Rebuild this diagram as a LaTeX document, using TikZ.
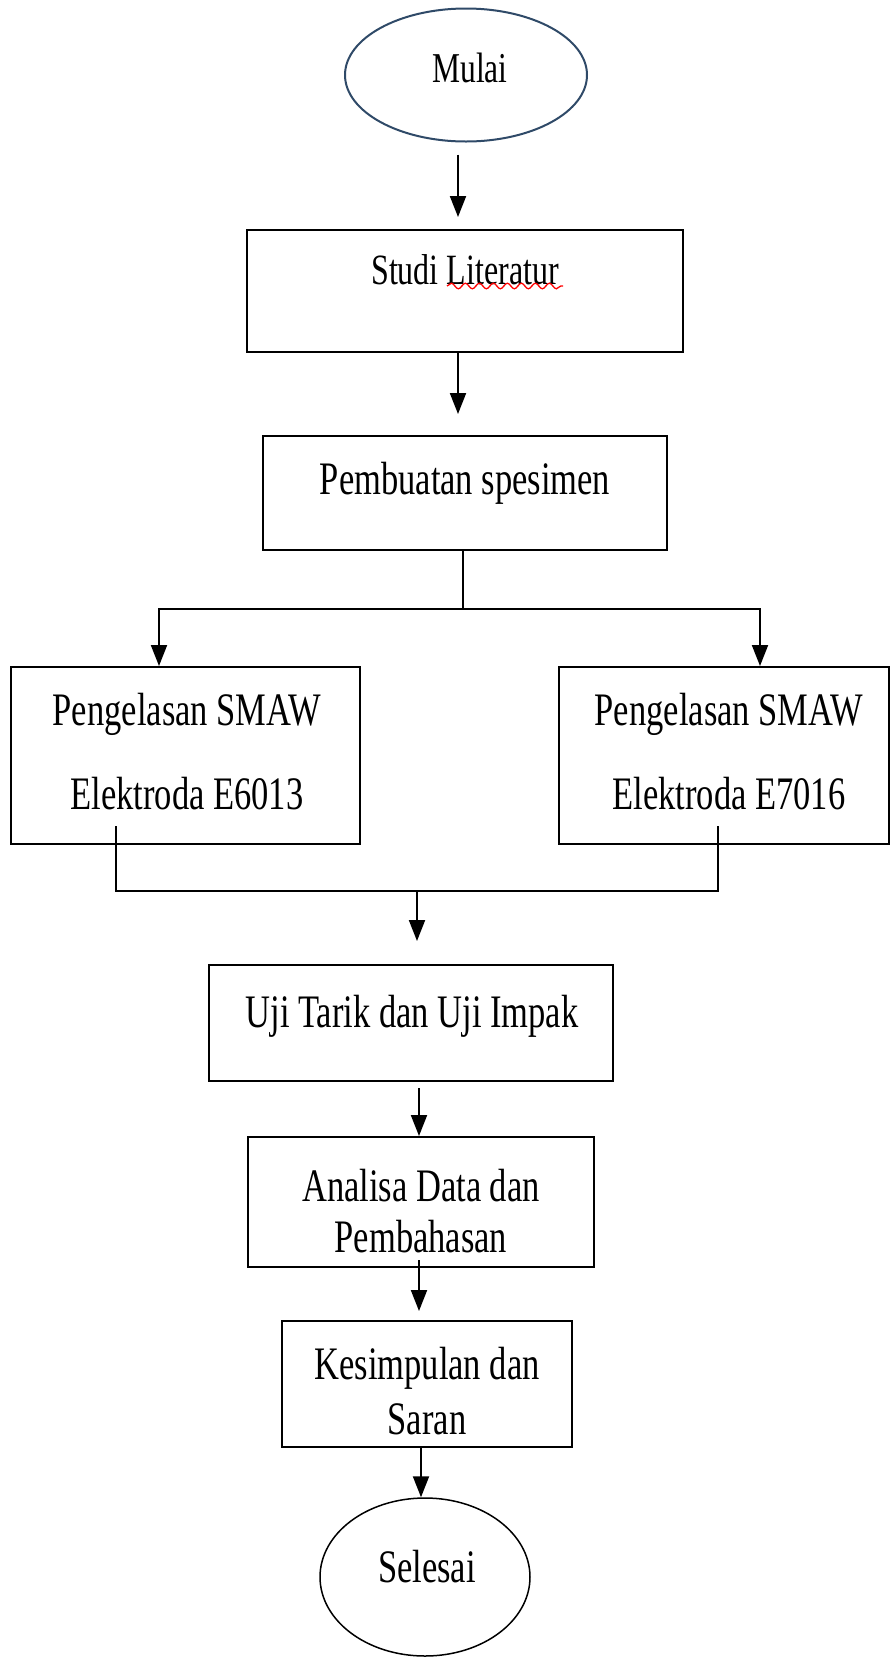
\documentclass[tikz,border=0pt]{standalone}
\usepackage{fontspec}
\setmainfont{Liberation Serif}
\usepackage{graphicx}
\usetikzlibrary{arrows.meta, shapes.geometric, decorations.pathmorphing}
\definecolor{biru}{HTML}{2F4A68}
\newcommand{\tinggi}[1]{\scalebox{1}[1.35]{#1}}

\begin{document}
\begin{tikzpicture}[x=1pt, y=-1pt,
	kotak/.style={draw, line width=2pt, inner sep=0pt},
	teks/.style={font=\fontsize{34.5}{51}\selectfont, align=center, inner sep=0pt},
	panah/.style={line width=2pt, -{Triangle[length=21pt, width=16pt]}},
	garis/.style={line width=2pt}]
	\useasboundingbox (0,0) rectangle (890,1660);

	% elips Mulai
	\node[kotak, ellipse, draw=biru, minimum width=242pt, minimum height=133pt] (mulai) at (466,75) {};
	\node[teks, font=\fontsize{31.5}{40}\selectfont] (mulaiT) at (470,68) {\tinggi{Mulai}};

	% kotak Studi Literatur
	\node[kotak, minimum width=436pt, minimum height=122pt] (studi) at (465,291) {};
	\node[teks, font=\fontsize{32}{40}\selectfont] (studiT) at (465,270) {\tinggi{Studi Literatur}};
	\draw[red, line width=1.3pt, decorate, decoration={snake, amplitude=2.8pt, segment length=14pt}] (447,286) -- (563,286);

	% kotak Pembuatan spesimen
	\node[kotak, minimum width=404pt, minimum height=114pt] (buat) at (465,493) {};
	\node[teks] (buatT) at (465,483) {\tinggi{Pembuatan spesimen}};

	% kotak pengelasan kiri dan kanan
	\node[kotak, minimum width=349pt, minimum height=177pt] (kiri) at (185.5,755.5) {};
	\node[teks, font=\fontsize{34.5}{84}\selectfont] (kiriT) at (187,752) {\tinggi{Pengelasan SMAW}\\\tinggi{Elektroda E6013}};
	\node[kotak, minimum width=330pt, minimum height=177pt] (kanan) at (724,755.5) {};
	\node[teks, font=\fontsize{34.5}{84}\selectfont] (kananT) at (729,752) {\tinggi{Pengelasan SMAW}\\\tinggi{Elektroda E7016}};

	% kotak pengujian sampai selesai
	\node[kotak, minimum width=404pt, minimum height=116pt] (uji) at (411,1023) {};
	\node[teks] (ujiT) at (412,1016) {\tinggi{Uji Tarik dan Uji Impak}};
	\node[kotak, minimum width=346pt, minimum height=130pt] (analisa) at (421,1202) {};
	\node[teks] (analisaT) at (421,1211) {\tinggi{Analisa Data dan}\\\tinggi{Pembahasan}};
	\node[kotak, minimum width=290pt, minimum height=126pt] (simpul) at (427,1384) {};
	\node[teks, font=\fontsize{34.5}{55}\selectfont] (simpulT) at (427,1391) {\tinggi{Kesimpulan dan}\\\tinggi{Saran}};
	\node[kotak, ellipse, line width=1.5pt, minimum width=210pt, minimum height=158pt] (selesai) at (425,1577) {};
	\node[teks] (selesaiT) at (427,1567) {\tinggi{Selesai}};

	% panah atas
	\draw[panah, shorten <=12pt, shorten >=12pt] ([xshift=-8pt]mulai.south) -- ([xshift=-7pt]studi.north);
	\draw[panah, shorten >=21pt] ([xshift=-7pt]studi.south) -- ([xshift=-7pt]buat.north);

	% cabang ke dua pengelasan
	\coordinate (cabang) at (463,609);
	\draw[garis] ([xshift=-2pt]buat.south) -- (cabang);
	\draw[panah] (cabang) -| ([xshift=-26.5pt]kiri.north);
	\draw[panah] (cabang) -| ([xshift=36pt]kanan.north);

	% gabung ke uji
	\coordinate (gabung) at (417,891);
	\draw[garis] ([xshift=-69.5pt, yshift=19pt]kiri.south) |- (gabung) -| ([xshift=-6pt, yshift=19pt]kanan.south);
	\draw[panah, shorten >=23pt] (gabung) -- ([xshift=6pt]uji.north);

	% panah bawah
	\draw[panah, shorten <=6pt] ([xshift=8pt]uji.south) -- ([xshift=-2pt]analisa.north);
	\draw[panah, shorten >=9pt] ([xshift=-2pt, yshift=8pt]analisa.south) -- ([xshift=-8pt]simpul.north);
	\draw[panah] ([xshift=-6pt]simpul.south) -- ([xshift=-4pt]selesai.north);
\end{tikzpicture}
\end{document}
